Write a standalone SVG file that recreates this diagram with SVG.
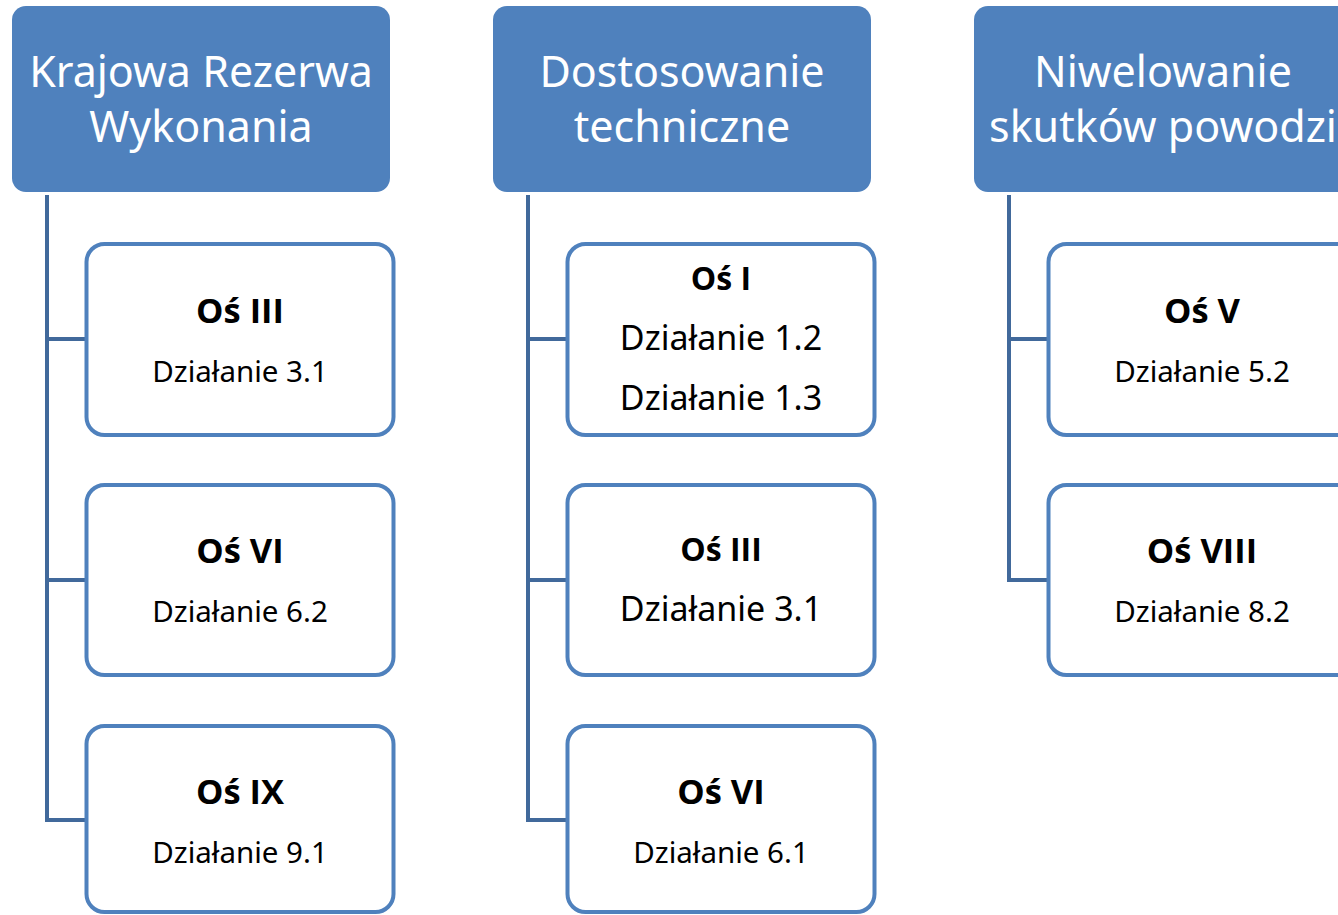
<svg xmlns="http://www.w3.org/2000/svg" width="1338" height="915" viewBox="0 0 1338 915">
<style>
.hdr{fill:#4F81BD}
.ht{font-family:"Noto Sans","Open Sans",sans-serif;font-size:43px;fill:#FFFFFF;text-anchor:middle}
.box{fill:#FFFFFF;stroke:#4F81BD;stroke-width:4}
.b{font-family:"Open Sans","Noto Sans",sans-serif;font-weight:bold;font-size:34.5px;fill:#000000;text-anchor:middle}
.s{font-family:"Noto Sans","Open Sans",sans-serif;font-size:29.5px;fill:#000000;text-anchor:middle}
.l{font-family:"Noto Sans","Open Sans",sans-serif;font-size:34px;fill:#000000;text-anchor:middle}
.con{fill:none;stroke:#41699B;stroke-width:4}
</style>
<rect width="1338" height="915" fill="#FFFFFF"/>
<g id="connectors">
<path class="con" d="M47,195 V820 H86 M47,339 H86 M47,580 H86"/>
<path class="con" d="M528,195 V820 H567 M528,339 H567 M528,580 H567"/>
<path class="con" d="M1009,195 V580 H1048 M1009,339 H1048"/>
</g>
<g id="h1"><rect class="hdr" x="12" y="6" width="378" height="186" rx="14"/>
<text class="ht" x="201" y="87">Krajowa Rezerwa</text><text class="ht" x="201" y="142">Wykonania</text></g>
<g id="h2"><rect class="hdr" x="493" y="6" width="378" height="186" rx="14"/>
<text class="ht" x="682" y="87">Dostosowanie</text><text class="ht" x="682" y="142">techniczne</text></g>
<g id="h3"><rect class="hdr" x="974" y="6" width="378" height="186" rx="14"/>
<text class="ht" x="1163" y="87">Niwelowanie</text><text class="ht" x="1163" y="142">skutków powodzi</text></g>
<g id="c1a"><rect class="box" x="86.5" y="244" width="307" height="191" rx="18"/>
<text class="b" x="240" y="323">Oś III</text><text class="s" x="240" y="382">Działanie 3.1</text></g>
<g id="c1b"><rect class="box" x="86.5" y="485" width="307" height="190" rx="18"/>
<text class="b" x="240" y="563">Oś VI</text><text class="s" x="240" y="622">Działanie 6.2</text></g>
<g id="c1c"><rect class="box" x="86.5" y="726" width="307" height="186" rx="18"/>
<text class="b" x="240" y="804">Oś IX</text><text class="s" x="240" y="863">Działanie 9.1</text></g>
<g id="c2a"><rect class="box" x="567.5" y="244" width="307" height="191" rx="18"/>
<text class="b" x="721" y="290" style="font-size:32px">Oś I</text><text class="l" x="721" y="350">Działanie 1.2</text><text class="l" x="721" y="410">Działanie 1.3</text></g>
<g id="c2b"><rect class="box" x="567.5" y="485" width="307" height="190" rx="18"/>
<text class="b" x="721" y="561" style="font-size:32px">Oś III</text><text class="l" x="721" y="621">Działanie 3.1</text></g>
<g id="c2c"><rect class="box" x="567.5" y="726" width="307" height="186" rx="18"/>
<text class="b" x="721" y="804">Oś VI</text><text class="s" x="721" y="863">Działanie 6.1</text></g>
<g id="c3a"><rect class="box" x="1048.5" y="244" width="307" height="191" rx="18"/>
<text class="b" x="1202" y="323">Oś V</text><text class="s" x="1202" y="382">Działanie 5.2</text></g>
<g id="c3b"><rect class="box" x="1048.5" y="485" width="307" height="190" rx="18"/>
<text class="b" x="1202" y="563">Oś VIII</text><text class="s" x="1202" y="622">Działanie 8.2</text></g>
</svg>
